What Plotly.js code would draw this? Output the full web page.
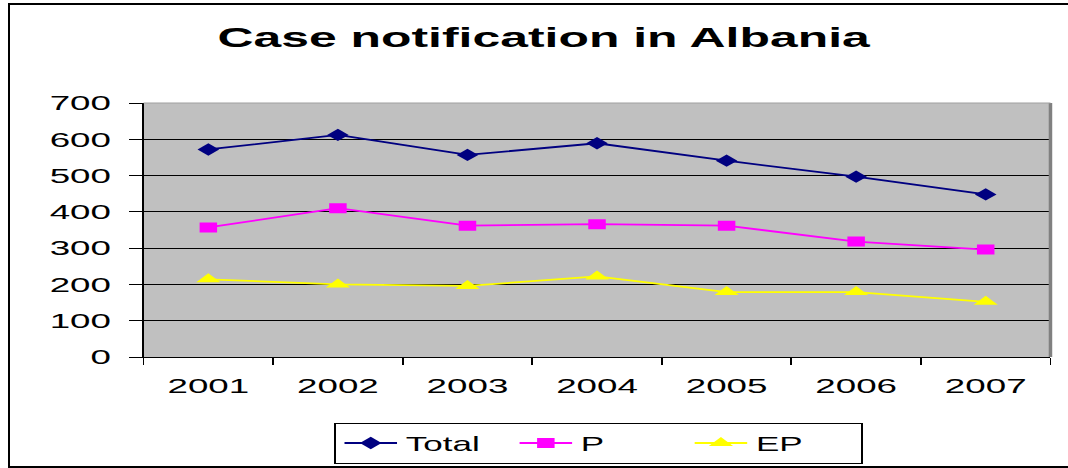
<!DOCTYPE html>
<html>
<head>
<meta charset="utf-8">
<script src="https://cdn.plot.ly/plotly-3.0.1.min.js"></script>
<style>
  html, body { margin: 0; padding: 0; background: #ffffff; }
  #wrap { position: relative; width: 1068px; height: 468px; overflow: hidden; background: #ffffff; }
  #plot { position: absolute; left: 0; top: 0; width: 610px; height: 468px; transform: scaleX(1.7508); transform-origin: 0 0; }
  #frame { position: absolute; left: 8px; top: 3px; width: 1070px; height: 461px; border: 2px solid #000; border-right: none; box-sizing: content-box; pointer-events: none; }
</style>
</head>
<body>
<div id="wrap">
  <div id="plot"></div>
  <div id="frame"></div>
</div>
<script>
const years = ['2001', '2002', '2003', '2004', '2005', '2006', '2007'];
const totalCases = [572, 612, 557, 589, 541, 497, 448];
const pCases = [357, 410, 362, 366, 362, 318, 296];
const epCases = [214, 200, 196, 222, 179, 179, 152];
const yTicks = [0, 100, 200, 300, 400, 500, 600, 700];

const font = 'Liberation Sans, Arial, sans-serif';

const traces = [
  { x: years, y: totalCases, name: 'Total', type: 'scatter', mode: 'lines+markers',
    line: { color: '#000080', width: 1.8 },
    marker: { symbol: 'diamond', size: 9.5, color: '#000080' } },
  { x: years, y: pCases, name: 'P', type: 'scatter', mode: 'lines+markers',
    line: { color: '#FF00FF', width: 1.8 },
    marker: { symbol: 'square', size: 10, color: '#FF00FF' } },
  { x: years, y: epCases, name: 'EP', type: 'scatter', mode: 'lines+markers',
    line: { color: '#FFFF00', width: 1.8 },
    marker: { symbol: 'triangle-up', size: 12, color: '#FFFF00' } }
];

const layout = {
  width: 610, height: 468,
  margin: { l: 81.7, r: 10.3, t: 103, b: 111, pad: 0 },
  paper_bgcolor: 'rgba(0,0,0,0)',
  plot_bgcolor: '#C0C0C0',
  font: { family: font, color: '#000' },
  title: { text: 'Case notification in Albania', font: { family: font, size: 28.5, color: '#000', weight: 'bold' },
           x: 0.509, xref: 'container', xanchor: 'center', y: 1 - 37/468, yref: 'container', yanchor: 'middle' },
  xaxis: {
    type: 'category', range: [-0.5, 6.5], tickson: 'boundaries',
    ticks: 'outside', ticklen: 7, tickcolor: '#000', tickwidth: 1,
    showline: true, linecolor: '#000', linewidth: 1,
    showgrid: false, zeroline: false,
    tickfont: { family: font, size: 21, color: '#000' },
    ticklabelstandoff: 10
  },
  yaxis: {
    range: [0, 700], tickvals: yTicks, ticktext: yTicks.map(String),
    ticks: 'outside', ticklen: 7.4, tickcolor: '#000', tickwidth: 1,
    showline: true, linecolor: '#000', linewidth: 1,
    showgrid: true, gridcolor: '#000', gridwidth: 1, zeroline: false,
    tickfont: { family: font, size: 21, color: '#000' },
    ticklabelstandoff: 6
  },
  showlegend: true,
  legend: {
    orientation: 'h', xref: 'container', yref: 'container',
    x: 334/1068, xanchor: 'left', y: 1 - 443/468, yanchor: 'middle',
    bgcolor: '#ffffff', bordercolor: '#000', borderwidth: 1,
    font: { family: font, size: 20, color: '#000' },
    entrywidth: 55, entrywidthmode: 'pixels',
    itemclick: false
  },
  shapes: [
    { type: 'line', xref: 'paper', yref: 'paper', x0: 1, x1: 1, y0: 0, y1: 1, line: { color: '#808080', width: 2 } },
    { type: 'line', xref: 'paper', yref: 'paper', x0: 0, x1: 1, y0: 1, y1: 1, line: { color: '#A0A0A0', width: 1 } }
  ]
};

Plotly.newPlot('plot', traces, layout, { displayModeBar: false, staticPlot: true });
</script>
</body>
</html>
